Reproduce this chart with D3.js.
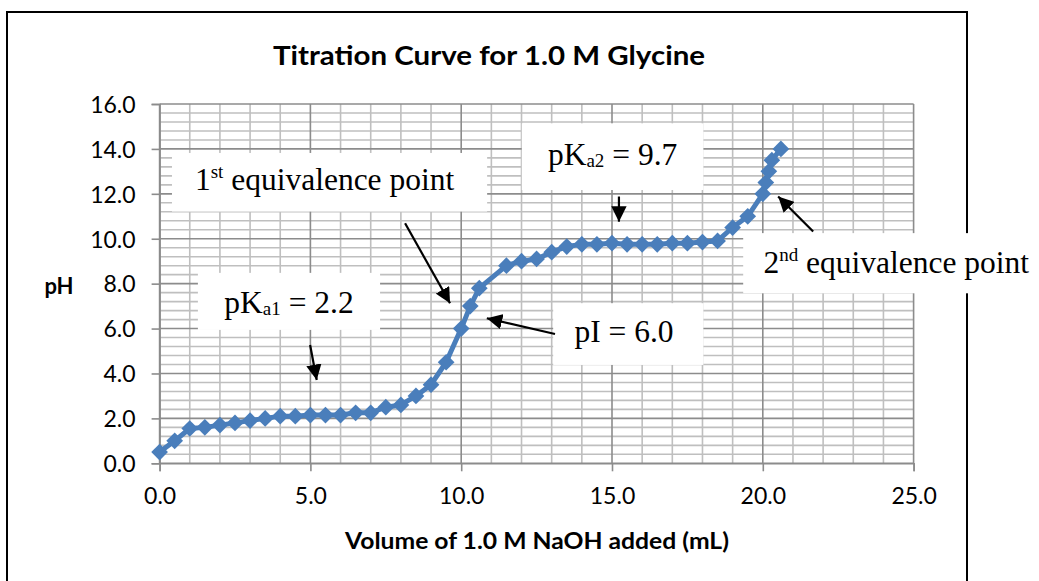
<!DOCTYPE html>
<html>
<head>
<meta charset="utf-8">
<script src="https://cdn.jsdelivr.net/npm/d3@7"></script>
<style>
  html, body { margin: 0; padding: 0; background: #fff; }
  svg { display: block; }
</style>
</head>
<body>
<svg id="chart" width="1039" height="581"></svg>
<script>
// Titration of 1.0 M glycine with 1.0 M NaOH
const volume = [0, 0.5, 1, 1.5, 2, 2.5, 3, 3.5, 4, 4.5, 5, 5.5, 6, 6.5, 7, 7.5, 8, 8.5, 9, 9.5,
  10, 10.3, 10.6, 11.5, 12, 12.5, 13, 13.5, 14, 14.5, 15, 15.5, 16, 16.5, 17, 17.5, 18, 18.5,
  19, 19.5, 20, 20.1, 20.2, 20.3, 20.6];
const pH = [0.5, 1.0, 1.55, 1.6, 1.7, 1.8, 1.9, 2.0, 2.1, 2.1, 2.15, 2.15, 2.15, 2.25, 2.25, 2.5, 2.6, 3.0, 3.5, 4.5,
  6.0, 7.0, 7.8, 8.8, 9.0, 9.1, 9.4, 9.65, 9.75, 9.75, 9.8, 9.75, 9.75, 9.75, 9.8, 9.8, 9.85, 9.9,
  10.5, 11.0, 12.0, 12.5, 13.0, 13.5, 14.0];

const xTicks = [0, 5, 10, 15, 20, 25];
const yTicks = [0, 2, 4, 6, 8, 10, 12, 14, 16];

const chartTitle = "Titration Curve for 1.0 M Glycine";
const xTitle = "Volume of 1.0 M NaOH added (mL)";
const yTitle = "pH";

// Callouts, placed in data units (mL, pH)
const callouts = [
  { parts: [["1", ""], ["st", "sup"], [" equivalence point", ""]], anchor: "start",
    box: [0.41, 10.86, 13.82, 11.21], text: [1.17, 12.17], arrow: [8.14, 10.69, 9.63, 7.13] },
  { parts: [["pK", ""], ["a2", "sub"], [" = 9.7", ""]], anchor: "middle",
    box: [12.01, 18.03, 15.14, 12.17], text: [15.02, 13.29], arrow: [15.23, 11.88, 15.23, 10.76] },
  { parts: [["pK", ""], ["a1", "sub"], [" = 2.2", ""]], anchor: "middle",
    box: [1.27, 7.31, 8.48, 5.94], text: [4.29, 6.69], arrow: [4.99, 5.27, 5.21, 3.71] },
  { parts: [["pI = 6.0", ""]], anchor: "middle",
    box: [13.05, 18.03, 7.13, 4.38], text: [15.4, 5.42], arrow: [13.11, 5.76, 10.85, 6.46] },
  { parts: [["2", ""], ["nd", "sup"], [" equivalence point", ""]], anchor: "start",
    box: [19.35, 29.3, 10.25, 7.57], text: [20.02, 8.46], arrow: [21.67, 10.32, 20.51, 11.88] }
];

const svg = d3.select("#chart");
const plot = { left: 159.6, right: 913.6, top: 104, bottom: 463.3 };

const x = d3.scaleLinear().domain([0, 25]).range([plot.left, plot.right]);
const y = d3.scaleLinear().domain([0, 16]).range([plot.bottom, plot.top]);

const sans = "Lato, 'Open Sans', sans-serif";
const serif = "'Liberation Serif', 'DejaVu Serif', serif";

// Outer chart frame
svg.append("rect")
  .attr("x", 7).attr("y", 12).attr("width", 960).attr("height", 600)
  .attr("fill", "#fff").attr("stroke", "#000").attr("stroke-width", 2);

// Title
svg.append("text")
  .attr("x", 489).attr("y", 65)
  .attr("text-anchor", "middle")
  .attr("font-family", sans).attr("font-weight", "bold").attr("font-size", 27)
  .attr("textLength", 432).attr("lengthAdjust", "spacingAndGlyphs")
  .text(chartTitle);

// Gridlines: minor then major
const grid = svg.append("g");
const minorY = d3.range(0, 16.001, 0.4).filter(v => Math.abs(v / 2 - Math.round(v / 2)) > 1e-6);
const minorX = d3.range(0, 25.001, 1).filter(v => v % 5 !== 0);
grid.selectAll(".my").data(minorY).join("line")
  .attr("x1", plot.left).attr("x2", plot.right)
  .attr("y1", d => y(d)).attr("y2", d => y(d))
  .attr("stroke", "#bfbfbf").attr("stroke-width", 1.6);
grid.selectAll(".mx").data(minorX).join("line")
  .attr("y1", plot.top).attr("y2", plot.bottom)
  .attr("x1", d => x(d)).attr("x2", d => x(d))
  .attr("stroke", "#bfbfbf").attr("stroke-width", 1.6);
grid.selectAll(".gy").data(yTicks).join("line")
  .attr("x1", plot.left).attr("x2", plot.right)
  .attr("y1", d => y(d)).attr("y2", d => y(d))
  .attr("stroke", "#8c8c8c").attr("stroke-width", 1.6);
grid.selectAll(".gx").data(xTicks).join("line")
  .attr("y1", plot.top).attr("y2", plot.bottom)
  .attr("x1", d => x(d)).attr("x2", d => x(d))
  .attr("stroke", "#8c8c8c").attr("stroke-width", 1.6);

// Axes
const fmt = d3.format(".1f");
const xAxis = svg.append("g")
  .attr("transform", `translate(0,${plot.bottom})`)
  .call(d3.axisBottom(x).tickValues(xTicks).tickFormat(fmt).tickSize(8).tickPadding(16));
const yAxis = svg.append("g")
  .attr("transform", `translate(${plot.left},0)`)
  .call(d3.axisLeft(y).tickValues(yTicks).tickFormat(fmt).tickSize(8).tickPadding(16));
[xAxis, yAxis].forEach(g => {
  g.select(".domain").attr("stroke", "#8c8c8c").attr("stroke-width", 1.6);
  g.selectAll(".tick line").attr("stroke", "#8c8c8c").attr("stroke-width", 1.6);
  g.selectAll(".tick text").attr("font-family", sans).attr("font-size", 23).attr("fill", "#000");
});
yAxis.selectAll(".tick text").attr("dy", "0.36em");

// Axis titles
svg.append("text")
  .attr("x", 537).attr("y", 549)
  .attr("text-anchor", "middle")
  .attr("font-family", sans).attr("font-weight", "bold").attr("font-size", 23)
  .attr("textLength", 384).attr("lengthAdjust", "spacingAndGlyphs")
  .text(xTitle);
svg.append("text")
  .attr("x", 59).attr("y", 294)
  .attr("text-anchor", "middle")
  .attr("font-family", sans).attr("font-weight", "bold").attr("font-size", 22)
  .text(yTitle);

// Series line and diamond markers
const blue = "#4a7ebb";
const pts = volume.map((v, i) => [v, pH[i]]);
svg.append("path")
  .datum(pts)
  .attr("fill", "none").attr("stroke", blue).attr("stroke-width", 5)
  .attr("stroke-linejoin", "round")
  .attr("d", d3.line().x(d => x(d[0])).y(d => y(d[1])));
svg.append("g").selectAll("path").data(pts).join("path")
  .attr("d", d3.symbol(d3.symbolSquare, 140))
  .attr("transform", d => `translate(${x(d[0])},${y(d[1])}) rotate(45)`)
  .attr("fill", blue);

// Callouts with arrows
const defs = svg.append("defs");
defs.append("marker")
  .attr("id", "head").attr("viewBox", "0 0 10 10")
  .attr("refX", 10).attr("refY", 5)
  .attr("markerWidth", 7).attr("markerHeight", 7)
  .attr("markerUnits", "strokeWidth").attr("orient", "auto")
  .append("path").attr("d", "M0,0 L10,5 L0,10 Z").attr("fill", "#000");

const notes = svg.append("g");
callouts.forEach(c => {
  const [bx0, bx1, by0, by1] = c.box;
  notes.append("rect")
    .attr("x", x(bx0)).attr("y", y(by0))
    .attr("width", x(bx1) - x(bx0)).attr("height", y(by1) - y(by0))
    .attr("fill", "#fff");
  const t = notes.append("text")
    .attr("x", x(c.text[0])).attr("y", y(c.text[1]))
    .attr("text-anchor", c.anchor)
    .attr("font-family", serif).attr("font-size", 31.5).attr("fill", "#000");
  c.parts.forEach(([s, kind]) => {
    const sp = t.append("tspan").text(s);
    if (kind === "sup") sp.attr("font-size", 19).attr("baseline-shift", "62%");
    if (kind === "sub") sp.attr("font-size", 19).attr("baseline-shift", "-12%");
  });
  const [ax0, ay0, ax1, ay1] = c.arrow;
  notes.append("line")
    .attr("x1", x(ax0)).attr("y1", y(ay0))
    .attr("x2", x(ax1)).attr("y2", y(ay1))
    .attr("stroke", "#000").attr("stroke-width", 2.2)
    .attr("marker-end", "url(#head)");
});
</script>
</body>
</html>
